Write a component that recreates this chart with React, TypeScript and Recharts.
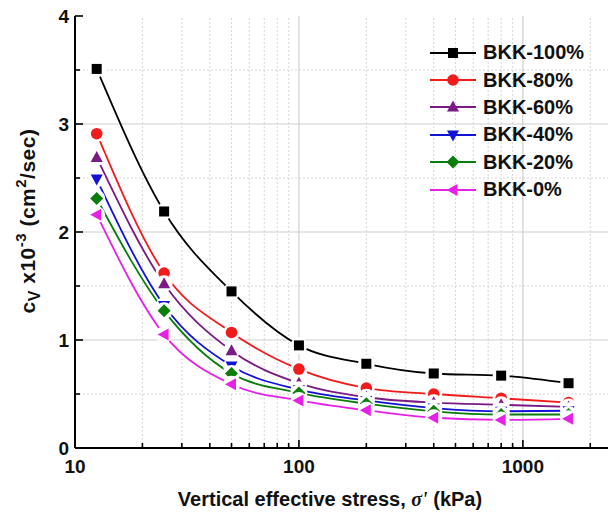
import React from 'react';
import { LineChart, Line, XAxis, YAxis, ReferenceLine, Legend } from 'recharts';

// vertical effective stress (kPa)
const stress = [12.5, 25, 50, 100, 200, 400, 800, 1600];

// cv x10^-3 (cm2/sec)
const bkk100 = [3.51, 2.19, 1.45, 0.95, 0.78, 0.69, 0.67, 0.6];
const bkk80 = [2.91, 1.62, 1.07, 0.73, 0.555, 0.5, 0.46, 0.42];
const bkk60 = [2.69, 1.52, 0.9, 0.6, 0.47, 0.42, 0.4, 0.38];
const bkk40 = [2.49, 1.32, 0.76, 0.54, 0.44, 0.37, 0.34, 0.345];
const bkk20 = [2.31, 1.27, 0.69, 0.51, 0.41, 0.34, 0.31, 0.31];
const bkk0 = [2.16, 1.05, 0.59, 0.44, 0.35, 0.28, 0.26, 0.27];

const seriesNames = ['BKK-100%', 'BKK-80%', 'BKK-60%', 'BKK-40%', 'BKK-20%', 'BKK-0%'];
const seriesValues = [bkk100, bkk80, bkk60, bkk40, bkk20, bkk0];
const seriesColors = ['#000000', '#f01c1c', '#7b1a84', '#1212d6', '#0a7d0a', '#e620e6'];
const seriesShapes = ['square', 'circle', 'up', 'down', 'diamond', 'left'];

const xMajorTicks = [10, 100, 1000];
const xMinorTicks = [20, 30, 40, 50, 60, 70, 80, 90, 200, 300, 400, 500, 600, 700, 800, 900, 2000];
const yMajorTicks = [0, 1, 2, 3, 4];
const yMinorTicks = [0.5, 1.5, 2.5, 3.5];

const data = stress.map((s, i) => {
  const row: Record<string, number> = { x: s };
  seriesNames.forEach((n, k) => (row[n] = seriesValues[k][i]));
  return row;
});

const FONT = 'Arial, "Liberation Sans", sans-serif';

const Marker = ({ shape, color, cx, cy }: { shape: string; color: string; cx: number; cy: number }) => {
  switch (shape) {
    case 'square':
      return <rect x={cx - 5} y={cy - 5} width={10} height={10} fill={color} />;
    case 'circle':
      return <circle cx={cx} cy={cy} r={5.8} fill={color} />;
    case 'up':
      return <polygon points={`${cx},${cy - 6.5} ${cx + 6},${cy + 4.5} ${cx - 6},${cy + 4.5}`} fill={color} />;
    case 'down':
      return <polygon points={`${cx},${cy + 6.5} ${cx + 6},${cy - 4.5} ${cx - 6},${cy - 4.5}`} fill={color} />;
    case 'diamond':
      return <polygon points={`${cx},${cy - 6.5} ${cx + 6.5},${cy} ${cx},${cy + 6.5} ${cx - 6.5},${cy}`} fill={color} />;
    default:
      return <polygon points={`${cx - 6.5},${cy} ${cx + 4.5},${cy - 6} ${cx + 4.5},${cy + 6}`} fill={color} />;
  }
};

const makeDot = (shape: string, color: string) => (props: any) => {
  const { cx, cy, index } = props;
  if (cx == null || cy == null) return <g key={index} />;
  return (
    <g key={index}>
      <circle cx={cx} cy={cy} r={8.5} fill="#ffffff" />
      <Marker shape={shape} color={color} cx={cx} cy={cy} />
    </g>
  );
};

const XTick = (props: any) => {
  const { x, y, payload, top } = props;
  const major = xMajorTicks.includes(payload.value);
  const len = major ? 8 : 5;
  return (
    <g>
      <line x1={x} x2={x} y1={y} y2={top ? y + len : y - len} stroke="#000" strokeWidth={1.6} />
      {!top && major && (
        <text x={x} y={y + 12} dy="0.71em" textAnchor="middle" fontSize={19} fontWeight="bold" fill="#111" fontFamily={FONT}>
          {payload.value}
        </text>
      )}
    </g>
  );
};

const YTick = (props: any) => {
  const { x, y, payload, right } = props;
  const major = yMajorTicks.includes(payload.value);
  const len = major ? 8 : 5;
  return (
    <g>
      <line x1={x} x2={right ? x - len : x + len} y1={y} y2={y} stroke="#000" strokeWidth={1.6} />
      {!right && major && (
        <text x={x - 6} y={y} dy="0.355em" textAnchor="end" fontSize={19} fontWeight="bold" fill="#111" fontFamily={FONT}>
          {payload.value}
        </text>
      )}
    </g>
  );
};

const renderLegend = () => (
  <div style={{ fontFamily: FONT }}>
    {seriesNames.map((n, i) => (
      <div key={n} style={{ display: 'flex', alignItems: 'center', height: 27.4 }}>
        <svg width={50} height={20} style={{ display: 'block' }}>
          <line x1={2} x2={48} y1={10} y2={10} stroke={seriesColors[i]} strokeWidth={1.8} />
          <Marker shape={seriesShapes[i]} color={seriesColors[i]} cx={25} cy={10} />
        </svg>
        <span style={{ fontSize: 20, fontWeight: 'bold', color: '#111', marginLeft: 5 }}>{n}</span>
      </div>
    ))}
  </div>
);

const App: React.FC = () => {
  return (
    <div style={{ position: 'absolute', left: 0, top: 0, width: 612, height: 518, background: '#fff' }}>
      <LineChart width={612} height={518} data={data} margin={{ top: 16, right: 4, bottom: 0, left: 0 }}>
        <XAxis
          dataKey="x"
          type="number"
          scale="log"
          domain={[10, 2400]}
          allowDataOverflow
          ticks={[...xMajorTicks, ...xMinorTicks]}
          interval={0}
          height={70}
          tickSize={0}
          tickMargin={0}
          tick={<XTick />}
          axisLine={{ stroke: '#000', strokeWidth: 2 }}
          tickLine={false}
        />
        <XAxis
          xAxisId="top"
          orientation="top"
          dataKey="x"
          type="number"
          scale="log"
          domain={[10, 2400]}
          allowDataOverflow
          ticks={[...xMajorTicks, ...xMinorTicks]}
          interval={0}
          height={0}
          tickSize={0}
          tickMargin={0}
          tick={<XTick top />}
          axisLine={{ stroke: '#000', strokeWidth: 2 }}
          tickLine={false}
        />
        <YAxis
          type="number"
          domain={[0, 4]}
          ticks={[...yMajorTicks, ...yMinorTicks]}
          interval={0}
          width={75}
          tickSize={0}
          tickMargin={0}
          tick={<YTick />}
          axisLine={{ stroke: '#000', strokeWidth: 2 }}
          tickLine={false}
        />
        <YAxis
          yAxisId="right"
          orientation="right"
          type="number"
          domain={[0, 4]}
          ticks={[...yMajorTicks, ...yMinorTicks]}
          interval={0}
          width={0}
          tickSize={0}
          tickMargin={0}
          tick={<YTick right />}
          axisLine={{ stroke: '#000', strokeWidth: 2 }}
          tickLine={false}
        />
        {xMinorTicks.map((v) => (
          <ReferenceLine key={`xm${v}`} x={v} stroke="#d6d6d6" strokeDasharray="2 2" strokeWidth={1} />
        ))}
        {xMajorTicks.slice(1).map((v) => (
          <ReferenceLine key={`xM${v}`} x={v} stroke="#cfcfcf" strokeWidth={1.2} />
        ))}
        {yMinorTicks.map((v) => (
          <ReferenceLine key={`ym${v}`} y={v} stroke="#d6d6d6" strokeDasharray="2 2" strokeWidth={1} />
        ))}
        {yMajorTicks.slice(1, 4).map((v) => (
          <ReferenceLine key={`yM${v}`} y={v} stroke="#cfcfcf" strokeWidth={1.2} />
        ))}
        {seriesNames.map((n, i) => (
          <Line
            key={n}
            dataKey={n}
            type="monotone"
            stroke={seriesColors[i]}
            strokeWidth={1.8}
            dot={makeDot(seriesShapes[i], seriesColors[i])}
            activeDot={false}
            isAnimationActive={false}
          />
        ))}
        <Legend
          layout="vertical"
          align="center"
          verticalAlign="middle"
          content={renderLegend}
          wrapperStyle={{ position: 'absolute', left: 428, top: 39, width: 180 }}
        />
      </LineChart>
      <svg width={612} height={518} style={{ position: 'absolute', left: 0, top: 0, pointerEvents: 'none' }}>
        <text
          transform="translate(35,221) rotate(-90)"
          textAnchor="middle"
          fontSize={21}
          fontWeight="bold"
          fill="#111"
          fontFamily={FONT}
          letterSpacing={0.5}
        >
          c<tspan fontSize={16} dy={5}>V</tspan>
          <tspan dy={-5}> x10</tspan>
          <tspan fontSize={15} dy={-9}>-3</tspan>
          <tspan dy={9}> (cm</tspan>
          <tspan fontSize={15} dy={-9}>2</tspan>
          <tspan dy={9}>/sec)</tspan>
        </text>
        <text x={330} y={506} textAnchor="middle" fontSize={20} fontWeight="bold" fill="#111" fontFamily={FONT}>
          Vertical effective stress, <tspan fontStyle="italic" fontFamily='"Times New Roman", "Liberation Serif", serif'>σ'</tspan> (kPa)
        </text>
      </svg>
    </div>
  );
};

export default App;
